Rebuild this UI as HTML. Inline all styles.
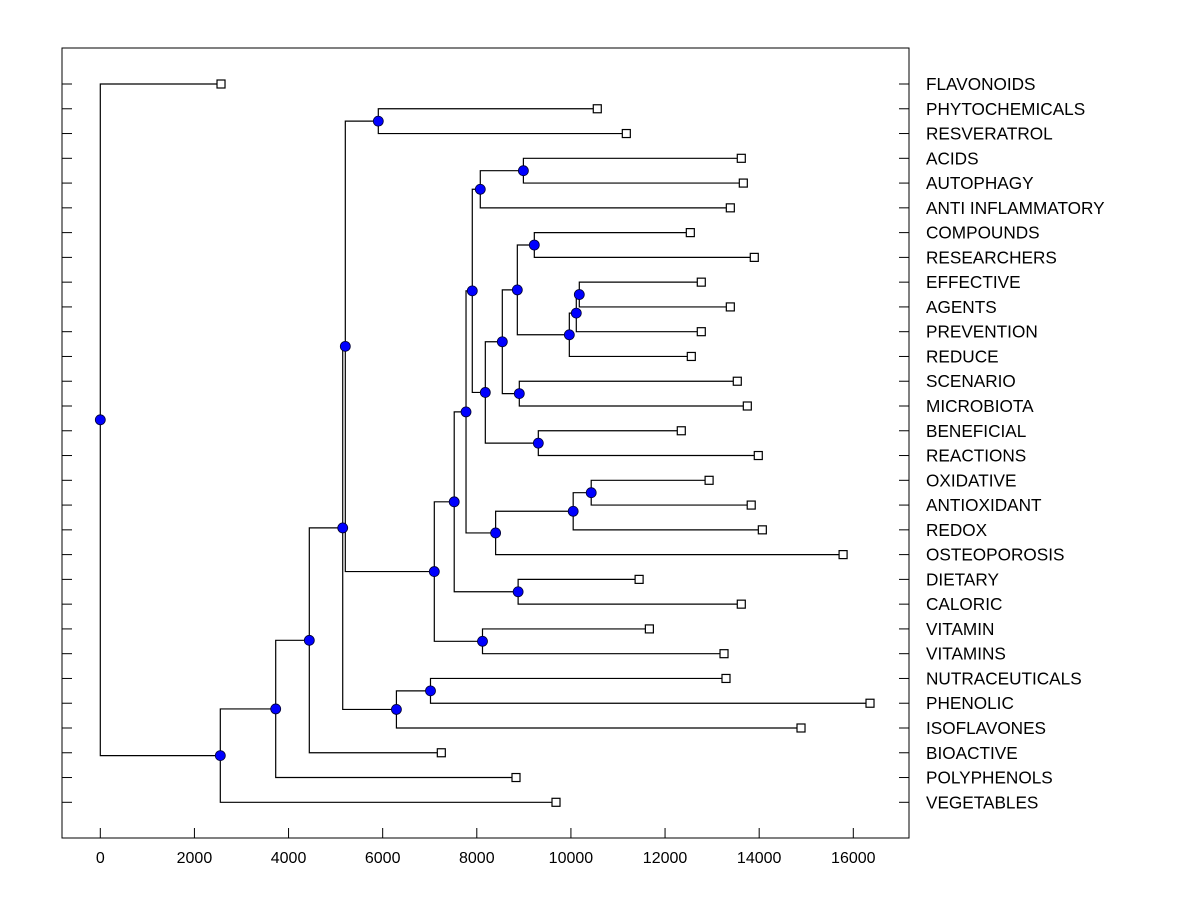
<!DOCTYPE html>
<html><head><meta charset="utf-8"><style>
html,body{margin:0;padding:0;background:#fff;}
svg{display:block;font-family:"Liberation Sans",Arial,sans-serif;}
</style></head><body>
<svg id="chart" width="1200" height="900" viewBox="0 0 1200 900">
<rect x="62" y="48" width="847" height="790" fill="none" stroke="#000" stroke-width="1"/>
<g id="axis"></g>
<g id="links"></g>
<g id="marks"></g>
<g id="labels"></g>
</svg>
<script>
const leafLabels = ["FLAVONOIDS","PHYTOCHEMICALS","RESVERATROL","ACIDS","AUTOPHAGY","ANTI INFLAMMATORY","COMPOUNDS","RESEARCHERS","EFFECTIVE","AGENTS","PREVENTION","REDUCE","SCENARIO","MICROBIOTA","BENEFICIAL","REACTIONS","OXIDATIVE","ANTIOXIDANT","REDOX","OSTEOPOROSIS","DIETARY","CALORIC","VITAMIN","VITAMINS","NUTRACEUTICALS","PHENOLIC","ISOFLAVONES","BIOACTIVE","POLYPHENOLS","VEGETABLES"];
const leafValues = [2565,10560,11177,13620,13663,13387,12537,13896,12770,13387,12770,12558,13535,13748,12345,13981,12936,13831,14067,15783,11449,13620,11667,13253,13295,16355,14889,7246,8833,9683];
const mergeLeft  = [3,30,6,8,33,34,32,12,36,14,38,31,16,42,43,41,20,45,22,47,1,50,24,52,51,54,55,56,0];
const mergeRight = [4,5,7,9,10,11,35,13,37,15,39,40,17,18,19,44,21,46,23,48,2,49,25,26,53,27,28,29,57];
const mergeValues = [8990,8074,9222,10178,10114,9966,8861,8903,8542,9307,8181,7904,10431,10048,8400,7771,8878,7520,8121,7097,5907,5206,7016,6292,5151,4441,3727,2550,0];
const xTicks = [0,2000,4000,6000,8000,10000,12000,14000,16000];

const NS="http://www.w3.org/2000/svg";
const X0=100.3, XS=(853.3-100.3)/16000;
function xScale(v){return X0+v*XS;}
function yRow(i){return 84+i*(802.3-84)/29;}
function mk(tag,attrs,parent){const e=document.createElementNS(NS,tag);for(const k in attrs)e.setAttribute(k,attrs[k]);parent.appendChild(e);return e;}

const axis=document.getElementById('axis');
xTicks.forEach(t=>{
  const x=xScale(t);
  const tk=mk('line',{x1:x,x2:x,y1:828,y2:838,stroke:'#000'},axis);
  
  
  const tl=mk('text',{x:x,y:863,'text-anchor':'middle','font-size':'16'},axis);
  tl.textContent=String(t);
  
  
});
const labels=document.getElementById('labels');
leafLabels.forEach((lab,i)=>{
  const y=yRow(i);
  const lt=mk('line',{x1:62,x2:72,y1:y,y2:y,stroke:'#000'},axis);
  
  
  const rt=mk('line',{x1:899,x2:909,y1:y,y2:y,stroke:'#000'},axis);
  
  
  const t=mk('text',{x:926,y:y+6,'font-size':'17.2'},labels);
  t.textContent=lab;
  
  
});

const N=leafLabels.length;
const posY=[], posX=[];
leafValues.forEach((v,i)=>{posY[i]=yRow(i);posX[i]=xScale(v);});
const links=document.getElementById('links'), marks=document.getElementById('marks');
mergeValues.forEach((v,k)=>{
  const id=N+k, a=mergeLeft[k], b=mergeRight[k];
  const x=xScale(v);
  posX[id]=x; posY[id]=(posY[a]+posY[b])/2;
  const p=mk('path',{d:`M${posX[a]},${posY[a]}H${x}V${posY[b]}H${posX[b]}`,fill:'none',stroke:'#000','stroke-width':'1.2'},links);
  
  
});
leafValues.forEach((v,i)=>{
  const r=mk('rect',{x:posX[i]-4,y:posY[i]-4,width:8,height:8,fill:'#fff',stroke:'#000','stroke-width':'1.2'},marks);
  
  
});
mergeValues.forEach((v,k)=>{
  const id=N+k;
  const c=mk('circle',{cx:posX[id],cy:posY[id],r:5,fill:'#0000ff',stroke:'#000033','stroke-width':'0.8'},marks);
  
  
});
</script>
</body></html>
